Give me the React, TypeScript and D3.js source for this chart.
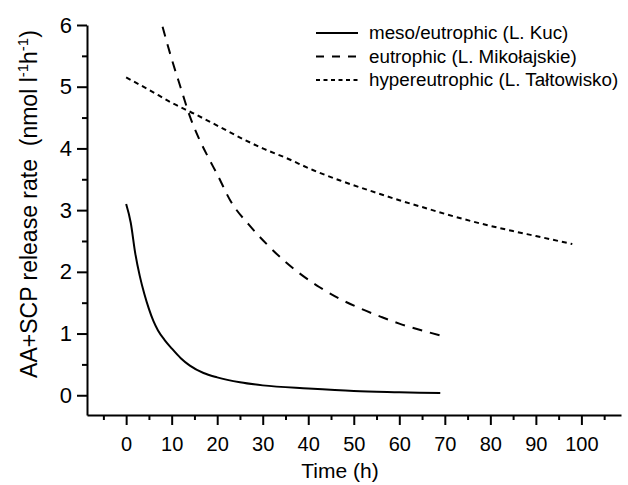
import React, { useEffect, useRef } from 'react';
import * as d3 from 'd3';

// release rate curves (time in h, rate in nmol l-1 h-1)
const mesoTime = [0, 1, 2, 3, 4, 5, 6, 7, 8.5, 10, 12, 14, 17, 20, 25, 30, 40, 50, 60, 69];
const mesoRate = [3.1, 2.8, 2.3, 1.93, 1.64, 1.4, 1.2, 1.05, 0.89, 0.76, 0.6, 0.48, 0.36, 0.29, 0.21, 0.16, 0.11, 0.07, 0.05, 0.035];

const eutroTime = [8, 10, 12, 14, 16, 18, 20, 23, 27, 31, 35, 38, 42.5, 47, 51, 56, 60, 65, 69];
const eutroRate = [5.97, 5.45, 4.98, 4.52, 4.16, 3.86, 3.58, 3.14, 2.76, 2.44, 2.16, 1.98, 1.75, 1.56, 1.42, 1.27, 1.16, 1.05, 0.97];

const hyperTime = [0, 5, 10, 15, 20, 26, 30, 35, 41, 47, 55, 60, 65, 70, 78, 85, 90, 98];
const hyperRate = [5.15, 4.95, 4.74, 4.56, 4.37, 4.14, 4.0, 3.85, 3.65, 3.48, 3.28, 3.16, 3.05, 2.94, 2.78, 2.66, 2.58, 2.45];

const seriesNames = ['meso/eutrophic (L. Kuc)', 'eutrophic (L. Mikołajskie)', 'hypereutrophic (L. Tałtowisko)'];
const xMajorTicks = [0, 10, 20, 30, 40, 50, 60, 70, 80, 90, 100];
const xMinorTicks = [-5, 5, 15, 25, 35, 45, 55, 65, 75, 85, 95, 105];
const yMajorTicks = [0, 1, 2, 3, 4, 5, 6];
const yMinorTicks = [0.5, 1.5, 2.5, 3.5, 4.5, 5.5];

const FONT = '"Liberation Sans", Arial, sans-serif';

export default function App() {
  const ref = useRef<SVGSVGElement>(null);

  useEffect(() => {
    document.body.style.margin = '0';
    const svg = d3.select(ref.current);
    svg.selectAll('*').remove();

    // scales, axis frame runs from x=87 to 621 and y=25 to 415
    const x = d3.scaleLinear().domain([-8.6, 108.7]).range([87, 621]);
    const y = d3.scaleLinear().domain([-0.32, 6]).range([415, 25]);

    // y axis
    const yAxis = svg.append('g').attr('transform', 'translate(87,0)');
    yAxis.call(d3.axisLeft(y).tickValues(yMajorTicks).tickSize(10).tickSizeOuter(0).tickPadding(5).tickFormat(d3.format('d')));
    yAxis.append('g').call(d3.axisLeft(y).tickValues(yMinorTicks).tickSize(5).tickSizeOuter(0).tickFormat(() => ''))
      .select('.domain').remove();
    yAxis.selectAll('text').attr('font-size', 22).attr('font-family', FONT).attr('fill', '#000');

    // x axis
    const xAxis = svg.append('g').attr('transform', 'translate(0,415)');
    xAxis.call(d3.axisBottom(x).tickValues(xMajorTicks).tickSize(10).tickSizeOuter(0).tickPadding(12));
    xAxis.append('g').call(d3.axisBottom(x).tickValues(xMinorTicks).tickSize(5).tickSizeOuter(0).tickFormat(() => ''))
      .select('.domain').remove();
    xAxis.selectAll('text').attr('font-size', 20).attr('font-family', FONT).attr('fill', '#000');

    svg.selectAll('.domain, .tick line').attr('stroke', '#000').attr('stroke-width', 2);

    // axis titles
    svg.append('text')
      .attr('x', 340).attr('y', 478)
      .attr('text-anchor', 'middle')
      .attr('font-size', 21).attr('font-family', FONT)
      .text('Time (h)');

    const yTitle = svg.append('text')
      .attr('transform', 'translate(37,204) rotate(-90)')
      .attr('text-anchor', 'middle')
      .attr('font-size', 23).attr('font-family', FONT);
    yTitle.append('tspan').text('AA+SCP release rate\u00a0\u00a0(nmol l');
    yTitle.append('tspan').attr('font-size', 15).attr('dy', -9).text('-1');
    yTitle.append('tspan').attr('dy', 9).text('h');
    yTitle.append('tspan').attr('font-size', 15).attr('dy', -9).text('-1');
    yTitle.append('tspan').attr('dy', 9).text(')');

    // lines
    const line = d3.line<[number, number]>()
      .x(d => x(d[0]))
      .y(d => y(d[1]))
      .curve(d3.curveMonotoneX);

    const series = [
      { t: mesoTime, v: mesoRate, dash: null, legendDash: null },
      { t: eutroTime, v: eutroRate, dash: '10,8', legendDash: '8,8' },
      { t: hyperTime, v: hyperRate, dash: '5,4', legendDash: '4,3.5' },
    ];

    series.forEach((s, i) => {
      svg.append('path')
        .datum(d3.zip(s.t, s.v) as [number, number][])
        .attr('fill', 'none')
        .attr('stroke', '#000')
        .attr('stroke-width', 2)
        .attr('stroke-dasharray', s.dash)
        .attr('d', line);

      // legend
      const ly = 33 + i * 23.5;
      svg.append('line')
        .attr('x1', 316).attr('x2', 358)
        .attr('y1', ly).attr('y2', ly)
        .attr('stroke', '#000').attr('stroke-width', 2)
        .attr('stroke-dasharray', s.legendDash);
      svg.append('text')
        .attr('x', 369).attr('y', ly + 6)
        .attr('font-size', 18.8).attr('font-family', FONT)
        .text(seriesNames[i]);
    });
  }, []);

  return <svg ref={ref} width={628} height={485} style={{ display: 'block', background: '#fff' }} />;
}
